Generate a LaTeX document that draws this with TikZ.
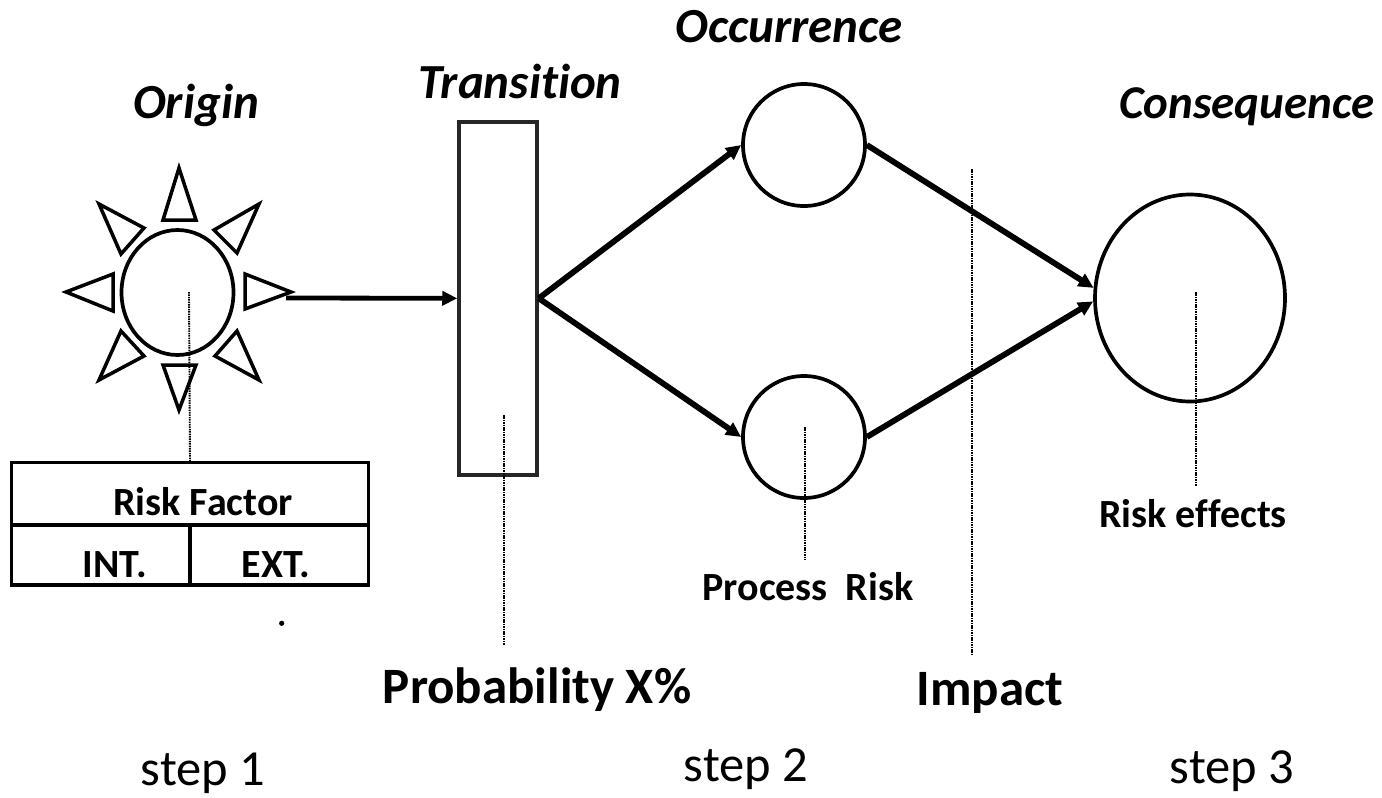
\documentclass[tikz,border=0pt]{standalone}
\usepackage{fontspec}
\setmainfont{Carlito}[Ligatures=NoCommon]
\usetikzlibrary{arrows.meta,shapes.geometric}
\tikzset{
  shapeline/.style={draw=black,line width=3.7pt},
  ray/.style={draw=black,line width=3.5pt,line join=miter},
  flow/.style={draw=black,line width=5.8pt,-{Triangle[length=15pt,width=14pt]}},
  guide/.style={draw=black,line width=1.9pt,dash pattern=on 1.5pt off 0.9pt},
  head/.style={font=\fontsize{49}{60}\selectfont\bfseries\itshape,anchor=base},
  biglab/.style={font=\fontsize{51}{60}\selectfont\bfseries,anchor=base},
  lab/.style={font=\fontsize{40}{48}\selectfont\bfseries,anchor=base},
  steplab/.style={font=\fontsize{50.5}{60}\selectfont,anchor=base},
  cell/.style={draw=black,line width=3.5pt,inner sep=0pt,outer sep=0pt},
}
\begin{document}
\begin{tikzpicture}[x=1pt,y=-1pt]
\useasboundingbox (0,0) rectangle (1382,798);
% sun
\node[shapeline,ellipse,minimum width=112pt,minimum height=125pt,inner sep=0pt] (sun) at (177.5,292.5) {};
\path[ray] (179,168) -- (196,220) -- (163,220) -- cycle;
\path[ray] (179,410) -- (196,365) -- (163,365) -- cycle;
\path[ray] (66,292) -- (113,274) -- (113,311) -- cycle;
\path[ray] (291,292) -- (245,274) -- (245,309) -- cycle;
\path[ray] (99,204) -- (144,228) -- (121,254) -- cycle;
\path[ray] (259,204) -- (214,230) -- (237,253) -- cycle;
\path[ray] (99,380) -- (144,356) -- (121,331) -- cycle;
\path[ray] (259,380) -- (215,356) -- (237,331) -- cycle;
\coordinate (sunout) at (286,298);
\coordinate (sundot) at (189,292);
% table
\node[cell,minimum width=356.6pt,minimum height=62.3pt] (rf) at (190,493.8) {};
\node[cell,minimum width=178.3pt,minimum height=60pt,anchor=north west] (int) at (rf.south west) {};
\node[cell,minimum width=178.3pt,minimum height=60pt,anchor=north east] (ext) at (rf.south east) {};
\node[lab] at (203,515) {Risk Factor};
\node[lab] at (115,577) {INT.};
\node[lab] at (276,577) {EXT.};
\fill (281.7,623.3) circle (2.6pt);
\draw[guide] (sundot) -- (rf.north);
% transition box
\node[draw=black!85,line width=3.5pt,minimum width=78pt,minimum height=353pt,inner sep=0pt] (trans) at (498,298.3) {};
\coordinate (transdot) at (504,415);
\coordinate (transend) at (504,645);
\draw[guide] (transdot) -- (transend);
% occurrence circles
\node[shapeline,circle,minimum size=122pt,inner sep=0pt] (occA) at (804,145) {};
\node[shapeline,circle,minimum size=122pt,inner sep=0pt] (occB) at (804,437) {};
\coordinate (occBdot) at (805,427);
\coordinate (occBend) at (805,560);
\draw[guide] (occBdot) -- (occBend);
% consequence
\node[shapeline,ellipse,minimum width=190pt,minimum height=207pt,inner sep=0pt] (cons) at (1190,298) {};
\coordinate (consdot) at (1195.7,292);
\coordinate (consend) at (1195.7,486);
\draw[guide] (consdot) -- (consend);
% impact line
\coordinate (imptop) at (972,169);
\coordinate (impbot) at (972,655);
\draw[guide] (imptop) -- (impbot);
% arrows
\draw[flow,line width=4.8pt] (sunout) -- (trans.west);
\draw[flow] (trans.east) -- (occA.west);
\draw[flow] (trans.east) -- (occB.west);
\draw[flow] (occA.east) -- (cons.174);
\draw[flow] (occB.east) -- (cons.182);
% labels
\node[head] at (196,118) {Origin};
\node[head] at (520,98) {Transition};
\node[head] at (789,42) {Occurrence};
\node[head,font=\fontsize{47}{56}\selectfont\bfseries\itshape] at (1247,118) {Consequence};
\node[lab] at (808,600) {Process\ \ Risk};
\node[lab] at (1193,527) {Risk effects};
\node[biglab] at (537,703) {Probability X\%};
\node[biglab] at (990,705) {Impact};
\node[steplab] at (203,785) {step 1};
\node[steplab] at (746,781) {step 2};
\node[steplab] at (1232,783) {step 3};
\end{tikzpicture}
\end{document}
